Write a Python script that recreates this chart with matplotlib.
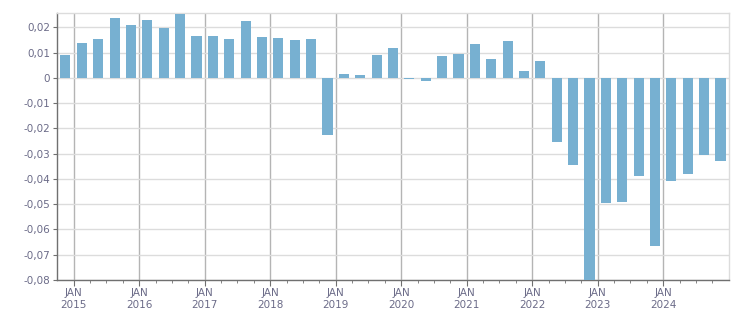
import matplotlib.pyplot as plt
from matplotlib.ticker import FixedLocator, FuncFormatter

# quarterly values, Q4 2014 .. Q4 2024
quarters = [2014.75 + 0.25 * i for i in range(41)]
values = [0.0091, 0.0139, 0.0154, 0.0238, 0.0210, 0.0230, 0.0198, 0.0253,
          0.0166, 0.0166, 0.0154, 0.0226, 0.0162, 0.0158, 0.0150, 0.0154,
          -0.0226, 0.0016, 0.0012, 0.0091, 0.0119, -0.0004, -0.0012, 0.0087,
          0.0095, 0.0135, 0.0075, 0.0147, 0.0028, 0.0067, -0.0253, -0.0345,
          -0.0820, -0.0495, -0.0491, -0.0388, -0.0665, -0.0408, -0.0380,
          -0.0305, -0.0329]
years = list(range(2015, 2025))
y_ticks = [0.02, 0.01, 0, -0.01, -0.02, -0.03, -0.04, -0.05, -0.06, -0.07, -0.08]

text_color = '#6b6b88'

fig = plt.figure(figsize=(7.51, 3.13), dpi=100)
ax = fig.add_axes([0.0763, 0.1054, 0.8940, 0.8521])

# bars centred in the middle of each quarter
centers = [q + 0.125 for q in quarters]
ax.bar(centers, values, width=0.153, color='#77b0d1', zorder=3)

ax.set_xlim(2014.75, 2025.0)
ax.set_ylim(-0.08, 0.0256)

# grid
ax.set_yticks(y_ticks)
ax.yaxis.set_major_formatter(FuncFormatter(
    lambda v, p: '0' if abs(v) < 1e-9 else f'{v:.2f}'.replace('.', ',')))
ax.xaxis.set_major_locator(FixedLocator(years))
ax.xaxis.set_minor_locator(FixedLocator([y + q * 0.25 for y in range(2014, 2025) for q in range(4)
                                         if 2014.75 < y + q * 0.25 < 2025 and q != 0]))
ax.set_xticklabels([f'JAN\n{y}' for y in years])

ax.grid(axis='y', color='#dcdcdc', linewidth=1, zorder=0)
ax.grid(axis='x', which='major', color='#b4b4b4', linewidth=1, zorder=1)

for side in ['top', 'right']:
    ax.spines[side].set_color('#dcdcdc')
    ax.spines[side].set_linewidth(1)
for side in ['left', 'bottom']:
    ax.spines[side].set_color('#707070')
    ax.spines[side].set_linewidth(1)

ax.tick_params(axis='y', length=3, color='#707070', labelsize=7.5,
               labelcolor=text_color, pad=2)
ax.tick_params(axis='x', which='major', length=4, color='#707070', labelsize=7.5,
               labelcolor=text_color, pad=2)
ax.tick_params(axis='x', which='minor', length=2, color='#707070')

plt.savefig('out.png', dpi=100)
